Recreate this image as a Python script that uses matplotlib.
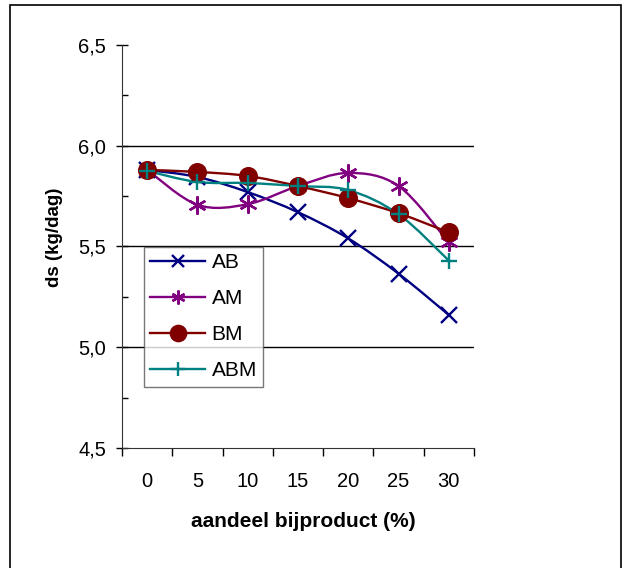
import matplotlib
matplotlib.use('Agg')
import matplotlib.pyplot as plt
from matplotlib.path import Path
from matplotlib.patches import PathPatch, Rectangle
from matplotlib.lines import Line2D
from matplotlib.ticker import FuncFormatter
import numpy as np

plt.rcParams['font.family'] = ['Liberation Sans', 'DejaVu Sans']

categories = ['0', '5', '10', '15', '20', '25', '30']
ab = [5.88, 5.845, 5.77, 5.67, 5.54, 5.365, 5.16]
am = [5.88, 5.707, 5.71, 5.80, 5.865, 5.80, 5.52]
bm = [5.88, 5.87, 5.85, 5.80, 5.74, 5.665, 5.57]
abm = [5.875, 5.82, 5.815, 5.80, 5.78, 5.66, 5.43]

# name, values, colour, marker, size in plot, size in legend
series = [('AB', ab, '#000080', 'x', 12, 9),
          ('AM', am, '#800080', (6, 2, 0), 13, 10),
          ('BM', bm, '#800000', 'o', 12, 11),
          ('ABM', abm, '#008080', '+', 12, 10)]


def smooth_path(xs, ys):
    # excel style smoothed line: cubic bezier through every point
    pts = np.column_stack([xs, ys]).astype(float)
    n = len(pts)
    verts = [pts[0]]
    codes = [Path.MOVETO]
    for i in range(n - 1):
        p0 = pts[max(i - 1, 0)]
        p1 = pts[i]
        p2 = pts[i + 1]
        p3 = pts[min(i + 2, n - 1)]
        c1 = p1 + (p2 - p0) / 6.0
        c2 = p2 - (p3 - p1) / 6.0
        verts += [c1, c2, p2]
        codes += [Path.CURVE4] * 3
    return Path(verts, codes)


fig = plt.figure(figsize=(6.23, 5.68), dpi=100)
ax = fig.add_axes([0.1958, 0.2113, 0.565, 0.7095])

x = np.arange(len(categories))
handles = []
for name, vals, col, mk, ms, lms in series:
    ax.add_patch(PathPatch(smooth_path(x, vals), fill=False, edgecolor=col,
                           lw=1.7, zorder=3))
    ax.plot(x, vals, ls='none', marker=mk, ms=ms, color=col, mec=col,
            mew=1.7, zorder=4)
    handles.append(Line2D([], [], color=col, lw=1.7, marker=mk, ms=lms,
                          mew=1.7, mec=col))

ax.set_xlim(-0.5, len(categories) - 0.5)
ax.set_ylim(4.5, 6.5)

ax.set_xticks(np.arange(-0.5, len(categories), 1.0))
ax.set_xticklabels([])
ax.set_xticks(x, minor=True)
ax.set_xticklabels(categories, minor=True)
ax.tick_params(axis='x', which='major', direction='out', length=6, width=1)
ax.tick_params(axis='x', which='minor', length=0, labelsize=14.5, pad=17)

ax.set_yticks([4.5, 5.0, 5.5, 6.0, 6.5])
ax.set_yticks(np.arange(4.5, 6.51, 0.25), minor=True)
ax.yaxis.set_major_formatter(FuncFormatter(lambda v, p: ('%.1f' % v).replace('.', ',')))
ax.tick_params(axis='y', which='major', direction='inout', length=9, width=1,
               labelsize=14.5, pad=7)
ax.tick_params(axis='y', which='minor', direction='in', length=4, width=1)

for v in [5.0, 5.5, 6.0]:
    ax.axhline(v, color='black', lw=1, zorder=1)

for s in ['top', 'right']:
    ax.spines[s].set_visible(False)
for s in ['left', 'bottom']:
    ax.spines[s].set_color('#333333')

fig.text(0.487, 0.081, 'aandeel bijproduct (%)', fontsize=15,
         fontweight='bold', ha='center', va='center')
fig.text(0.088, 0.583, 'ds (kg/dag)', rotation=90, fontsize=13.5,
         fontweight='bold', ha='center', va='center')

leg = ax.legend(handles, [s[0] for s in series], loc='upper left',
                bbox_to_anchor=(0.0625, 0.499), fontsize=15, frameon=True,
                fancybox=False, edgecolor='#555555', handlelength=2.65,
                handletextpad=0.3, borderpad=0.3, labelspacing=0.82,
                borderaxespad=0)
leg.get_frame().set_linewidth(1)

fig.patches.append(Rectangle((10 / 623, -0.01), 611 / 623, 1 - 5 / 568 + 0.01,
                             transform=fig.transFigure, fill=False,
                             edgecolor='black', lw=1.2))

fig.savefig('out.png', dpi=100)
